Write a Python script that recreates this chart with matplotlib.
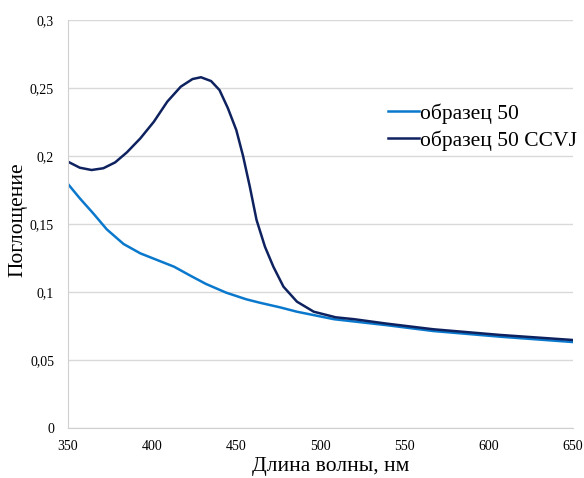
import matplotlib
matplotlib.use("Agg")
import matplotlib.pyplot as plt
from matplotlib.ticker import FuncFormatter, MultipleLocator

# образец 50
light_nm = [350, 357, 365, 373, 383, 393, 403, 413, 423, 432, 444, 456, 464,
            476, 486, 498, 508, 540, 567, 607, 650]
light = [0.1794, 0.1689, 0.1578, 0.1461, 0.1353, 0.1284, 0.1235, 0.1186, 0.1118,
         0.1059, 0.0995, 0.0946, 0.0921, 0.0887, 0.0855, 0.0825, 0.080, 0.0755,
         0.0713, 0.0671, 0.0632]

# образец 50 CCVJ
dark_nm = [350, 357, 364, 371, 378, 385, 393, 401, 409, 417, 424, 429, 435, 440,
           445, 450, 454, 458, 462, 467, 472, 478, 486, 496, 509, 520, 539, 567,
           607, 650]
dark = [0.1958, 0.1914, 0.1897, 0.191, 0.1953, 0.2027, 0.213, 0.2252, 0.240,
        0.251, 0.2566, 0.2579, 0.2551, 0.2485, 0.2351, 0.2190, 0.200, 0.1775,
        0.153, 0.1333, 0.1186, 0.1039, 0.0929, 0.0855, 0.0814, 0.080, 0.0768,
        0.0726, 0.0684, 0.0647]

labels = ["образец 50", "образец 50 CCVJ"]

plt.rcParams['font.family'] = ['Liberation Serif', 'DejaVu Serif']

fig = plt.figure(figsize=(5.84, 4.78), dpi=100)
ax = fig.add_axes([68 / 584, 1 - 428 / 478, (573 - 68) / 584, (428 - 20) / 478])

ax.plot(light_nm, light, color='#0a78cc', lw=1.8, label=labels[0])
ax.plot(dark_nm, dark, color='#0f2260', lw=1.8, label=labels[1])

ax.set_xlim(350, 650)
ax.set_ylim(0, 0.3)
ax.xaxis.set_major_locator(MultipleLocator(50))
ax.yaxis.set_major_locator(MultipleLocator(0.05))
ax.yaxis.set_major_formatter(FuncFormatter(lambda v, p: ('%g' % round(v, 3)).replace('.', ',')))

ax.grid(axis='y', color='#d9d9d9', lw=1)
ax.set_axisbelow(True)
for s in ['top', 'right']:
    ax.spines[s].set_visible(False)
for s in ['left', 'bottom']:
    ax.spines[s].set_color('#d0d0d0')
ax.tick_params(length=0, labelsize=10, pad=10)
ax.tick_params(axis='x', pad=9)

ax.set_xlabel("Длина волны, нм", fontsize=15.5)
ax.set_ylabel("Поглощение", fontsize=15.5)
ax.xaxis.set_label_coords(0.521, -0.072)
ax.yaxis.set_label_coords(-0.08, 0.51)

ax.legend(loc='center left', bbox_to_anchor=(379 / 584, 1 - 127 / 478),
          bbox_transform=fig.transFigure, frameon=False, fontsize=15.5,
          handlelength=1.45, handletextpad=0.05, labelspacing=0.3,
          borderaxespad=0)

fig.savefig("out.png", dpi=100)
